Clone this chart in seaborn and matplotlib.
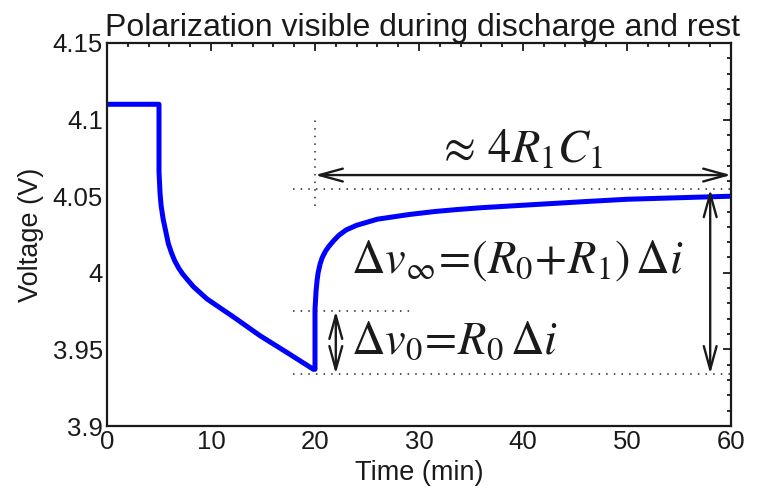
import matplotlib
matplotlib.use("Agg")
import matplotlib.pyplot as plt
import matplotlib.ticker as mticker
import seaborn as sns
import pandas as pd

# ---- data ----
time_discharge = [0, 5, 5, 5.1, 5.2, 5.4, 5.65, 5.9, 6.2, 6.5, 6.9, 7.3, 7.8, 8.3, 9.6,
                  12.2, 14.7, 17.3, 19.85]
volt_discharge = [4.11, 4.11, 4.066, 4.052, 4.044, 4.035, 4.027, 4.019, 4.013, 4.008,
                  4.003, 3.999, 3.995, 3.991, 3.983, 3.971, 3.959, 3.948, 3.937]
time_rest = [20, 20, 20.1, 20.2, 20.3, 20.5, 20.7, 21, 21.3, 21.8, 22.3, 23, 24, 25, 26,
             27.5, 29, 31.5, 33.5, 36, 41, 46, 50, 55, 60]
volt_rest = [3.937, 3.976, 3.988, 3.995, 4.0, 4.006, 4.010, 4.014, 4.017, 4.021, 4.0245,
             4.028, 4.031, 4.033, 4.035, 4.0365, 4.038, 4.040, 4.0412, 4.0425, 4.0445,
             4.0465, 4.048, 4.049, 4.050]

x_ticks = [0, 10, 20, 30, 40, 50, 60]
y_ticks = [3.9, 3.95, 4.0, 4.05, 4.1, 4.15]

title = "Polarization visible during discharge and rest"
xlabel = "Time (min)"
ylabel = "Voltage (V)"

# annotation levels (V) and times (min)
v_inf_level = 4.0545
v_jump_level = 3.975
v_min_level = 3.934
span_arrow_level = 4.0638
label_rc = r"$\approx\,4R_1C_1$"
label_dvinf = r"$\Delta v_\infty\!=\!(R_0\!+\!R_1)\,\Delta i$"
label_dv0 = r"$\Delta v_0\!=\!R_0\,\Delta i$"

df = pd.DataFrame({
    "t": time_discharge + time_rest,
    "v": volt_discharge + volt_rest,
})

sns.set_theme(style="white")
plt.rcParams["font.family"] = ["Liberation Sans", "DejaVu Sans"]
plt.rcParams["mathtext.fontset"] = "stix"
plt.rcParams["text.color"] = "black"
plt.rcParams["axes.labelcolor"] = "black"

fig = plt.figure(figsize=(7.59, 4.95), dpi=100)
ax = fig.add_axes([107 / 759, 1 - 426 / 495, 624 / 759, 383 / 495])

sns.lineplot(data=df, x="t", y="v", sort=False, estimator=None, color="#0000ff",
             lw=3.6, ax=ax, solid_joinstyle="round", solid_capstyle="butt")

ax.set_xlim(0, 60)
ax.set_ylim(3.9, 4.15)
ax.set_xticks(x_ticks)
ax.set_yticks(y_ticks)
ax.xaxis.set_minor_locator(mticker.AutoMinorLocator(5))
ax.yaxis.set_minor_locator(mticker.AutoMinorLocator(5))
ax.yaxis.set_major_formatter(mticker.FormatStrFormatter("%g"))
ax.tick_params(which="both", direction="in", top=True, right=True, colors="k",
               labelcolor="k", width=1.3)
ax.tick_params(which="major", length=6, labelsize=18.5, pad=3)
ax.tick_params(which="minor", length=3)
for s in ax.spines.values():
    s.set_linewidth(1.6)
    s.set_color("k")

ax.set_title(title, fontsize=23, pad=5, color="k", x=0.505)
ax.set_xlabel(xlabel, fontsize=19.5, labelpad=4, color="k")
ax.set_ylabel(ylabel, fontsize=19.5, labelpad=6, color="k")

dot = dict(ls=(0, (1, 4)), color="0.15", lw=1.1)
ax.plot([17.9, 60], [v_inf_level, v_inf_level], **dot, clip_on=False)
ax.plot([17.9, 29.6], [v_jump_level, v_jump_level], **dot)
ax.plot([17.9, 60], [v_min_level, v_min_level], **dot, clip_on=False)
ax.plot([20, 20], [4.0436, 4.103], **dot)

arrow = dict(arrowstyle="<->,head_length=1.2,head_width=0.33", mutation_scale=14,
             lw=1.7, color="k", shrinkA=0, shrinkB=0)
ax.annotate("", xy=(60, span_arrow_level), xytext=(20, span_arrow_level),
            arrowprops=arrow, annotation_clip=False)
ax.annotate("", xy=(22, v_min_level), xytext=(22, v_jump_level), arrowprops=arrow)
ax.annotate("", xy=(58, v_min_level), xytext=(58, v_inf_level), arrowprops=arrow)

ax.text(39.7, 4.0717, label_rc, fontsize=33.5, ha="center", va="baseline", color="k")
ax.text(23.5, 4.0, label_dvinf, fontsize=33.5, ha="left", va="baseline", color="k")
ax.text(23.5, 3.9474, label_dv0, fontsize=33.5, ha="left", va="baseline", color="k")

fig.savefig("out.png", dpi=100)
